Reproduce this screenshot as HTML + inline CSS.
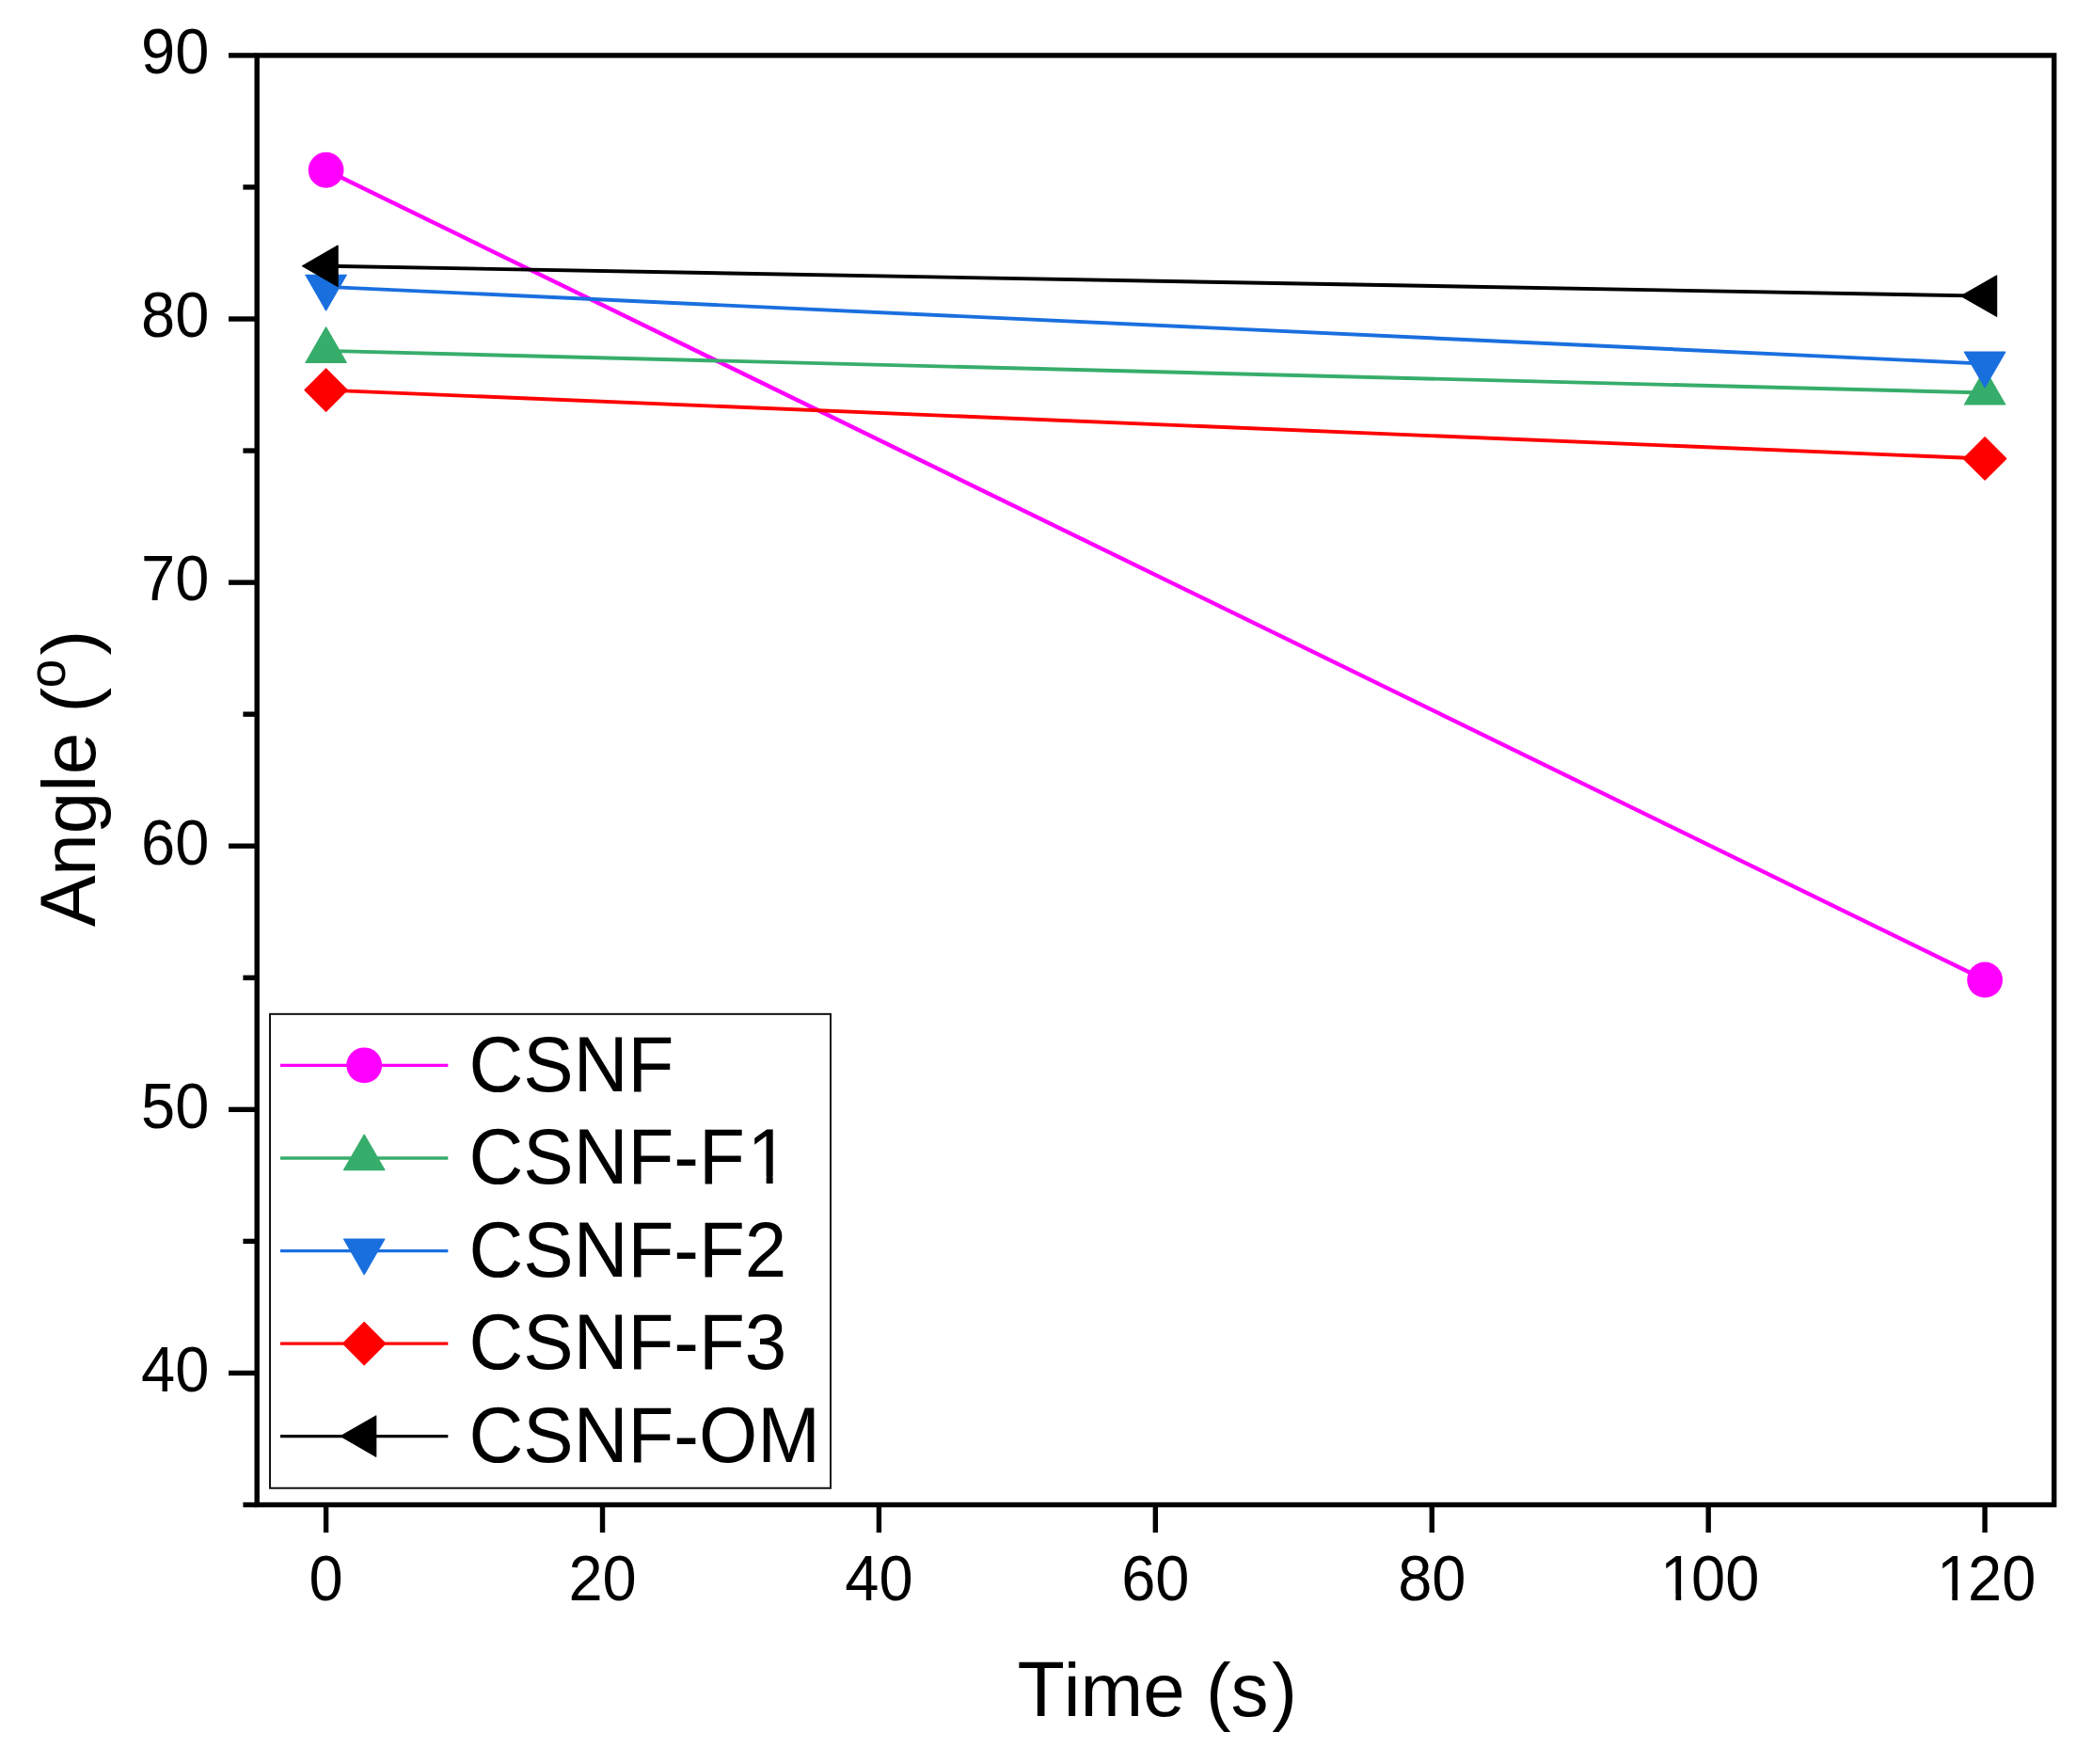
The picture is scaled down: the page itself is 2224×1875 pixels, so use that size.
<!DOCTYPE html>
<html lang="en"><head><meta charset="utf-8"><title>Angle vs Time</title>
<style>html,body{margin:0;padding:0;background:#fff;}body{width:2224px;height:1875px;overflow:hidden;}svg{display:block;}text{font-family:"Liberation Sans", Arial, Helvetica, sans-serif;fill:#000;}</style></head><body>
<svg width="2224" height="1875" viewBox="0 0 2224 1875">
<rect x="0" y="0" width="2224" height="1875" fill="#fff"/>
<line x1="346.60" y1="180.75" x2="2110.10" y2="1041.52" stroke="#FF00FF" stroke-width="4.3"/>
<circle cx="346.60" cy="180.75" r="18.9" fill="#FF00FF"/>
<circle cx="2110.10" cy="1041.52" r="18.9" fill="#FF00FF"/>
<line x1="346.60" y1="372.90" x2="2110.10" y2="417.44" stroke="#37AD6B" stroke-width="3.9"/>
<polygon points="346.60,347.85 324.90,385.43 368.30,385.43" fill="#37AD6B" stroke="#37AD6B" stroke-width="1.2" stroke-linejoin="round"/>
<polygon points="2110.10,392.38 2088.40,429.97 2131.80,429.97" fill="#37AD6B" stroke="#37AD6B" stroke-width="1.2" stroke-linejoin="round"/>
<line x1="346.60" y1="304.84" x2="2110.10" y2="386.63" stroke="#1A6FDF" stroke-width="3.9"/>
<polygon points="346.60,329.89 324.90,292.31 368.30,292.31" fill="#1A6FDF" stroke="#1A6FDF" stroke-width="1.2" stroke-linejoin="round"/>
<polygon points="2110.10,411.68 2088.40,374.10 2131.80,374.10" fill="#1A6FDF" stroke="#1A6FDF" stroke-width="1.2" stroke-linejoin="round"/>
<line x1="346.60" y1="414.64" x2="2110.10" y2="487.47" stroke="#FF0000" stroke-width="3.9"/>
<polygon points="346.60,391.94 369.30,414.64 346.60,437.34 323.90,414.64" fill="#FF0000" stroke="#FF0000" stroke-width="1.2" stroke-linejoin="round"/>
<polygon points="2110.10,464.77 2132.80,487.47 2110.10,510.17 2087.40,487.47" fill="#FF0000" stroke="#FF0000" stroke-width="1.2" stroke-linejoin="round"/>
<line x1="346.60" y1="282.71" x2="2110.10" y2="314.64" stroke="#000000" stroke-width="3.9"/>
<polygon points="321.54,282.71 359.13,261.01 359.13,304.41" fill="#000000" stroke="#000000" stroke-width="1.2" stroke-linejoin="round"/>
<polygon points="2085.04,314.64 2122.63,292.94 2122.63,336.34" fill="#000000" stroke="#000000" stroke-width="1.2" stroke-linejoin="round"/>
<rect x="273.2" y="58.9" width="1910.50" height="1540.60" fill="none" stroke="#000" stroke-width="5.4"/>
<line x1="258.40" y1="1599.50" x2="273.20" y2="1599.50" stroke="#000" stroke-width="5.4"/>
<line x1="243.00" y1="1459.45" x2="273.20" y2="1459.45" stroke="#000" stroke-width="5.4"/>
<text transform="translate(222.30 1478.75) scale(1 1.054)" font-size="65.0" text-anchor="end">40</text>
<line x1="258.40" y1="1319.39" x2="273.20" y2="1319.39" stroke="#000" stroke-width="5.4"/>
<line x1="243.00" y1="1179.34" x2="273.20" y2="1179.34" stroke="#000" stroke-width="5.4"/>
<text transform="translate(222.30 1198.64) scale(1 1.054)" font-size="65.0" text-anchor="end">50</text>
<line x1="258.40" y1="1039.28" x2="273.20" y2="1039.28" stroke="#000" stroke-width="5.4"/>
<line x1="243.00" y1="899.23" x2="273.20" y2="899.23" stroke="#000" stroke-width="5.4"/>
<text transform="translate(222.30 918.53) scale(1 1.054)" font-size="65.0" text-anchor="end">60</text>
<line x1="258.40" y1="759.17" x2="273.20" y2="759.17" stroke="#000" stroke-width="5.4"/>
<line x1="243.00" y1="619.12" x2="273.20" y2="619.12" stroke="#000" stroke-width="5.4"/>
<text transform="translate(222.30 638.42) scale(1 1.054)" font-size="65.0" text-anchor="end">70</text>
<line x1="258.40" y1="479.06" x2="273.20" y2="479.06" stroke="#000" stroke-width="5.4"/>
<line x1="243.00" y1="339.01" x2="273.20" y2="339.01" stroke="#000" stroke-width="5.4"/>
<text transform="translate(222.30 358.31) scale(1 1.054)" font-size="65.0" text-anchor="end">80</text>
<line x1="258.40" y1="198.95" x2="273.20" y2="198.95" stroke="#000" stroke-width="5.4"/>
<line x1="243.00" y1="58.90" x2="273.20" y2="58.90" stroke="#000" stroke-width="5.4"/>
<text transform="translate(222.30 78.20) scale(1 1.054)" font-size="65.0" text-anchor="end">90</text>
<line x1="346.60" y1="1599.50" x2="346.60" y2="1629.00" stroke="#000" stroke-width="5.4"/>
<text transform="translate(346.60 1701.30) scale(1 1.054)" font-size="65.0" text-anchor="middle">0</text>
<line x1="640.52" y1="1599.50" x2="640.52" y2="1629.00" stroke="#000" stroke-width="5.4"/>
<text transform="translate(640.52 1701.30) scale(1 1.054)" font-size="65.0" text-anchor="middle">20</text>
<line x1="934.43" y1="1599.50" x2="934.43" y2="1629.00" stroke="#000" stroke-width="5.4"/>
<text transform="translate(934.43 1701.30) scale(1 1.054)" font-size="65.0" text-anchor="middle">40</text>
<line x1="1228.35" y1="1599.50" x2="1228.35" y2="1629.00" stroke="#000" stroke-width="5.4"/>
<text transform="translate(1228.35 1701.30) scale(1 1.054)" font-size="65.0" text-anchor="middle">60</text>
<line x1="1522.27" y1="1599.50" x2="1522.27" y2="1629.00" stroke="#000" stroke-width="5.4"/>
<text transform="translate(1522.27 1701.30) scale(1 1.054)" font-size="65.0" text-anchor="middle">80</text>
<line x1="1816.18" y1="1599.50" x2="1816.18" y2="1629.00" stroke="#000" stroke-width="5.4"/>
<text transform="translate(1814.62 1701.30) scale(1 1.054)" font-size="65.0" text-anchor="middle"><tspan dx="3.13">1</tspan><tspan dx="-3.13">00</tspan></text>
<rect x="1768.85" y="1694.58" width="12.58" height="7.92" fill="#fff"/><rect x="1787.18" y="1694.58" width="12.69" height="7.92" fill="#fff"/>
<line x1="2110.10" y1="1599.50" x2="2110.10" y2="1629.00" stroke="#000" stroke-width="5.4"/>
<text transform="translate(2108.54 1701.30) scale(1 1.054)" font-size="65.0" text-anchor="middle"><tspan dx="3.13">1</tspan><tspan dx="-3.13">20</tspan></text>
<rect x="2062.76" y="1694.58" width="12.58" height="7.92" fill="#fff"/><rect x="2081.09" y="1694.58" width="12.69" height="7.92" fill="#fff"/>
<text y="1824.3" font-size="80"><tspan x="1081.5" font-size="82.5">T</tspan><tspan x="1130.75">ime (s</tspan><tspan x="1352.2">)</tspan></text>
<g transform="translate(100.8 984.2) rotate(-90)">
<text y="0" font-size="80"><tspan x="-1.15" font-size="82.5">A</tspan><tspan x="53.36">ngl</tspan><tspan x="160.9">e</tspan><tspan x="204.6"> (</tspan><tspan x="253.0" dy="-32" font-size="55">o</tspan><tspan x="287.6" dy="32">)</tspan></text>
</g>
<rect x="287.0" y="1077.85" width="596.0" height="503.9" fill="#fff" stroke="#111" stroke-width="2"/>
<line x1="298" y1="1132.3" x2="476.3" y2="1132.3" stroke="#FF00FF" stroke-width="3.3"/>
<circle cx="387.20" cy="1132.30" r="18.9" fill="#FF00FF"/>
<text transform="translate(498.60 1159.50) scale(1 1.036)" font-size="80" text-anchor="start">CSNF</text>
<line x1="298" y1="1231.0" x2="476.3" y2="1231.0" stroke="#37AD6B" stroke-width="3.3"/>
<polygon points="387.20,1205.94 365.50,1243.53 408.90,1243.53" fill="#37AD6B" stroke="#37AD6B" stroke-width="1.2" stroke-linejoin="round"/>
<text transform="translate(498.60 1258.20) scale(1 1.036)" font-size="80" text-anchor="start">CSNF-F<tspan dx="2.62">1</tspan></text>
<rect x="799.36" y="1250.41" width="15.26" height="8.99" fill="#fff"/><rect x="821.68" y="1250.41" width="15.20" height="8.99" fill="#fff"/>
<line x1="298" y1="1329.6" x2="476.3" y2="1329.6" stroke="#1A6FDF" stroke-width="3.3"/>
<polygon points="387.20,1354.66 365.50,1317.07 408.90,1317.07" fill="#1A6FDF" stroke="#1A6FDF" stroke-width="1.2" stroke-linejoin="round"/>
<text transform="translate(498.60 1356.80) scale(1 1.036)" font-size="80" text-anchor="start">CSNF-F2</text>
<line x1="298" y1="1428.1" x2="476.3" y2="1428.1" stroke="#FF0000" stroke-width="3.3"/>
<polygon points="387.20,1405.40 409.90,1428.10 387.20,1450.80 364.50,1428.10" fill="#FF0000" stroke="#FF0000" stroke-width="1.2" stroke-linejoin="round"/>
<text transform="translate(498.60 1455.30) scale(1 1.036)" font-size="80" text-anchor="start">CSNF-F3</text>
<line x1="298" y1="1526.6" x2="476.3" y2="1526.6" stroke="#000000" stroke-width="3.3"/>
<polygon points="362.14,1526.60 399.73,1504.90 399.73,1548.30" fill="#000000" stroke="#000000" stroke-width="1.2" stroke-linejoin="round"/>
<text transform="translate(498.60 1553.80) scale(1 1.036)" font-size="80" text-anchor="start">CSNF-OM</text>
</svg></body></html>
